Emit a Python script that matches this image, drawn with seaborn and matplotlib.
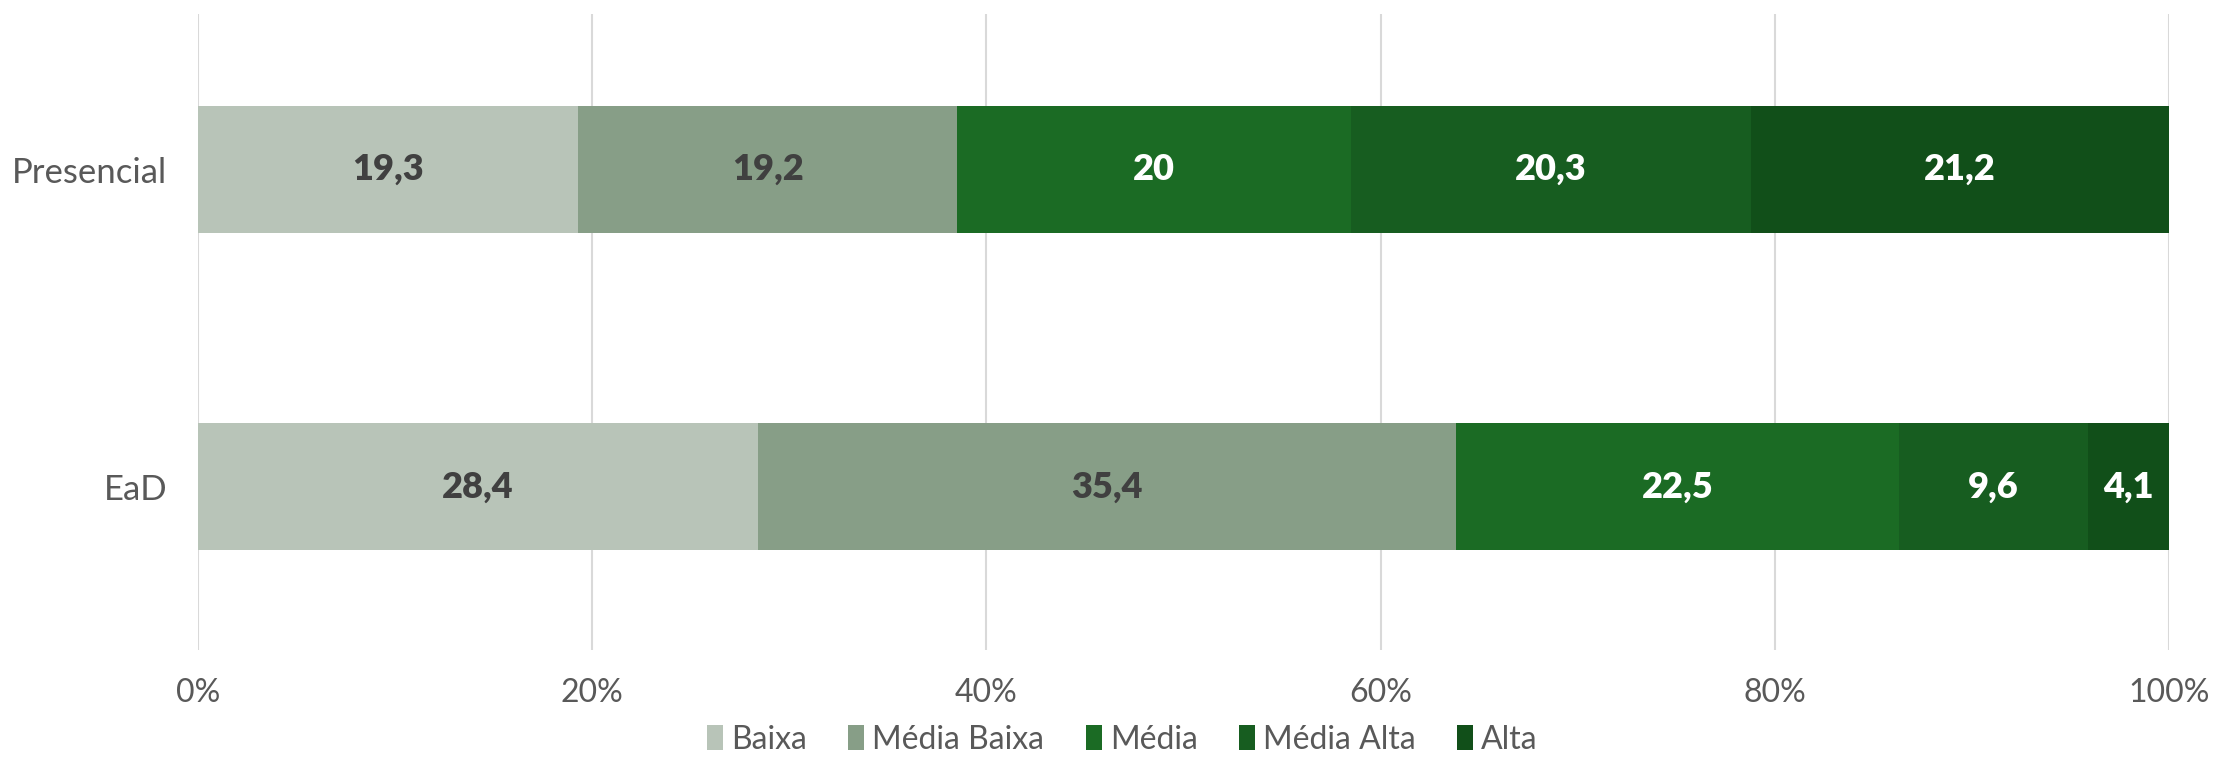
import numpy as np
import pandas as pd
import seaborn as sns
import matplotlib.pyplot as plt
from matplotlib.patches import Patch
from matplotlib.ticker import FuncFormatter

# dados
modalidades = ["Presencial", "EaD"]
faixas = ["Baixa", "Média Baixa", "Média", "Média Alta", "Alta"]
presencial = [19.3, 19.2, 20.0, 20.3, 21.2]
ead = [28.4, 35.4, 22.5, 9.6, 4.1]
cores = ["#B8C4B8", "#879E87", "#1B6B24", "#175D20", "#114F19"]
cor_rotulo = ["#404040", "#404040", "white", "white", "white"]

sns.set_theme(style="white")
plt.rcParams["font.family"] = ["Lato", "DejaVu Sans"]

valores = np.array([presencial, ead])
acum = valores.cumsum(axis=1)

fig = plt.figure(figsize=(22.14, 7.58), dpi=100)
ax = fig.add_axes([0.0894, 0.1425, 0.8903, 0.839])

# barras empilhadas: desenha do acumulado maior para o menor
for i in range(len(faixas) - 1, -1, -1):
    df = pd.DataFrame({"modalidade": modalidades, "valor": acum[:, i]})
    sns.barplot(data=df, x="valor", y="modalidade", order=modalidades,
                color=cores[i], width=0.4, saturation=1, edgecolor="none",
                linewidth=0, ax=ax, zorder=2)

# rotulos
for r in range(len(modalidades)):
    for i in range(len(faixas)):
        centro = acum[r, i] - valores[r, i] / 2
        txt = f"{valores[r, i]:g}".replace(".", ",")
        ax.text(centro, r, txt, ha="center", va="center", fontsize=26,
                fontweight="heavy", color=cor_rotulo[i], zorder=3)

ax.set_xlim(0, 100)
ax.set_ylim(1.514, -0.49)
ax.set_xticks(np.arange(0, 101, 20))
ax.xaxis.set_major_formatter(FuncFormatter(lambda v, p: f"{v:.0f}%"))
ax.grid(axis="x", color="#D9D9D9", linewidth=1.5, zorder=0)
ax.grid(axis="y", visible=False)
ax.set_axisbelow(True)
for s in ax.spines.values():
    s.set_visible(False)
ax.set_xlabel("")
ax.set_ylabel("")
ax.tick_params(axis="x", length=0, pad=20, labelsize=23, labelcolor="#595959")
ax.tick_params(axis="y", length=0, pad=22, labelsize=25, labelcolor="#595959")

handles = [Patch(facecolor=c, edgecolor="none") for c in cores]
leg = fig.legend(handles, faixas, loc="center", bbox_to_anchor=(0.507, 0.024),
                 ncol=5, frameon=False, fontsize=23, handlelength=0.5,
                 handleheight=0.8, handletextpad=0.25, columnspacing=1.3,
                 borderpad=0.1)
for t in leg.get_texts():
    t.set_color("#595959")

fig.savefig("out.png", dpi=100)
